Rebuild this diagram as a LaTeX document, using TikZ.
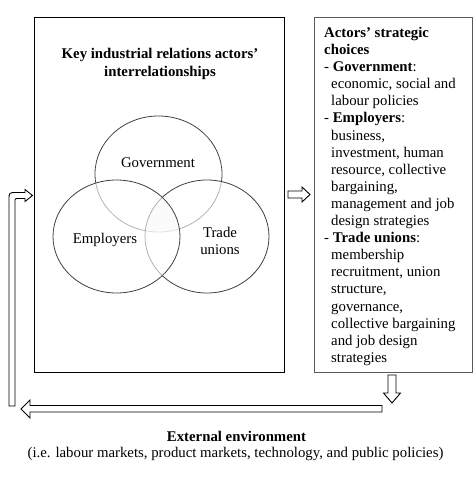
\documentclass[tikz,border=0pt]{standalone}
\usepackage{fontspec}
\setmainfont{Liberation Serif}
\begin{document}
\begin{tikzpicture}[x=1pt,y=-1pt,
  txt/.style={font=\fontsize{14.8pt}{17.1pt}\selectfont, inner sep=0pt},
  frame/.style={draw=black, line width=0.9pt, inner sep=0pt},
  hollow/.style={draw=black, fill=white, line width=0.9pt, line join=miter},
  venn/.style={draw=black!75, line width=0.8pt},
  veil/.style={fill=white, fill opacity=0.6}]
\useasboundingbox (0,0) rectangle (474,479);
% boxes
\node[frame, minimum width=250pt, minimum height=355pt, anchor=north west] (actors) at (34,17) {};
\node[frame, draw=black!65, minimum width=158pt, minimum height=355pt, anchor=north west] (choices) at (314,17) {};
% title
\node[txt, font=\fontsize{14.8pt}{17.6pt}\selectfont\bfseries, align=center, anchor=north] (title) at (160,48) {Key industrial relations actors'\\interrelationships};
% venn
\coordinate (gc) at (158.5,174);
\coordinate (ec) at (116.5,236.5);
\coordinate (tc) at (207,236.5);
\begin{scope}
  \clip (gc) ellipse [x radius=63.5, y radius=58];
  \clip (ec) ellipse [x radius=63.5, y radius=56.5];
  \fill[black!7] (tc) ellipse [x radius=62, y radius=56.5];
\end{scope}
\draw[venn] (gc) ellipse [x radius=63.5, y radius=58];
\fill[veil] (tc) ellipse [x radius=62, y radius=56.5];
\draw[venn] (tc) ellipse [x radius=62, y radius=56.5];
\fill[veil] (ec) ellipse [x radius=63.5, y radius=56.5];
\draw[venn] (ec) ellipse [x radius=63.5, y radius=56.5];
\node[txt] (gov) at (158,163) {Government};
\node[txt] (emp) at (105,240) {Employers};
\node[txt, align=center] (tu) at (220,240.5) {Trade\\unions};
% right text
\node[txt, align=left, anchor=north west] (list) at (324,27) {%
\textbf{Actors' strategic}\\
\textbf{choices}\\
- \textbf{Government}:\\
\hspace*{7pt}economic, social and\\
\hspace*{7pt}labour policies\\
- \textbf{Employers}:\\
\hspace*{7pt}business,\\
\hspace*{7pt}investment, human\\
\hspace*{7pt}resource, collective\\
\hspace*{7pt}bargaining,\\
\hspace*{7pt}management and job\\
\hspace*{7pt}design strategies\\
- \textbf{Trade unions}:\\
\hspace*{7pt}membership\\
\hspace*{7pt}recruitment, union\\
\hspace*{7pt}structure,\\
\hspace*{7pt}governance,\\
\hspace*{7pt}collective bargaining\\
\hspace*{7pt}and job design\\
\hspace*{7pt}strategies};
% bottom text
\node[txt, font=\fontsize{14.8pt}{17.1pt}\selectfont\bfseries, anchor=base] (ext) at (236.5,441) {External environment};
\node[txt, anchor=base] (extsub) at (235.5,457) {(i.e. labour markets, product markets, technology, and public policies)};
% hollow arrows
\draw[hollow] (288,191) -- (302,191) -- (302,187) -- (310,194.5) -- (302,202) -- (302,198) -- (288,198) -- cycle;
\draw[hollow] (388,375) -- (396,375) -- (396,393) -- (400.5,393) -- (392,403) -- (383.5,393) -- (388,393) -- cycle;
\draw[hollow] (382,405.5) -- (30,405.5) -- (30,400) -- (21,409) -- (30,418) -- (30,412) -- (382,412) -- cycle;
\draw[hollow] (9,406) -- (9,200) .. controls (9,192.5) .. (16.5,192.5) -- (25,192.5) -- (25,189.5) -- (32.5,195.5) -- (25,201.5) -- (25,198.5) -- (18.5,198.5) .. controls (15,198.5) .. (15,202) -- (15,406) -- cycle;
\end{tikzpicture}
\end{document}
